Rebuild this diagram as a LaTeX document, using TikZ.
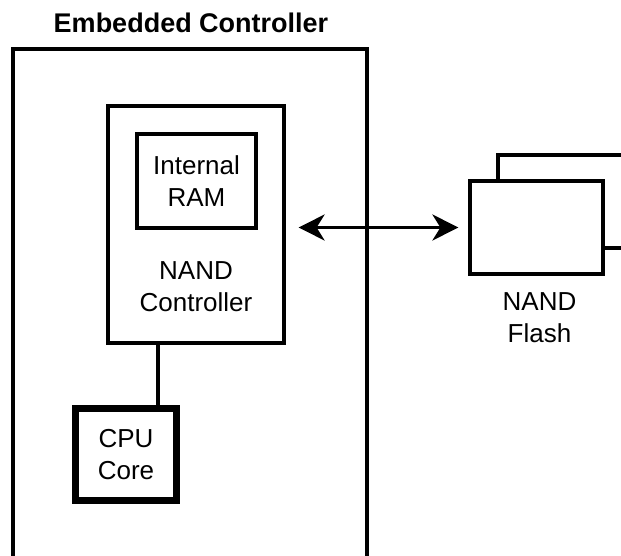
\documentclass[tikz,border=0pt]{standalone}
\usepackage{fontspec}
\setmainfont{Liberation Sans}
\usetikzlibrary{arrows.meta}

\begin{document}
\begin{tikzpicture}[x=0.5pt, y=-0.5pt,
        box/.style={draw=black, fill=white, line width=1.6pt, inner sep=0pt, align=center,
                    font=\fontsize{13}{16}\selectfont},
        cpubox/.style={box, line width=3.5pt},
        txt/.style={align=center, font=\fontsize{13}{16}\selectfont},
        arrow/.style={{Stealth[length=13pt,width=13pt,inset=4pt]}-{Stealth[length=13pt,width=13pt,inset=4pt]}, line width=1.6pt}
    ]
        \clip (0,0) rectangle (621,556);
        % embedded controller, open at the bottom
        \node[font=\bfseries\fontsize{13.5}{16}\selectfont] (title) at (191,23) {Embedded Controller};
        \draw[line width=1.7pt] (13,600) |- (367,49) -- (367,600);

        \node[box, minimum width=88pt, minimum height=118.5pt] (ctrl) at (196,224.5) {};
        \node[box, minimum width=59.5pt, minimum height=47pt] (ram) at (196.5,181) {Internal\\RAM};
        \node[txt] (ctrllabel) at (196,287) {NAND\\Controller};
        \node[cpubox, minimum width=50.5pt, minimum height=46pt] (cpu) at (126,454.5) {CPU\\Core};

        % flash chips
        \node[box, minimum width=66.5pt, minimum height=46.5pt] (flashback) at (564.5,201.5) {};
        \node[box, minimum width=66.5pt, minimum height=46.5pt] (flash) at (536.5,227.5) {};
        \node[txt] (flashlabel) at (539.5,317.5) {NAND\\Flash};

        \coordinate (bus) at (158,0);
        \draw[line width=1.6pt] (ctrl.south -| bus) -- (cpu.north -| bus);
        \draw[arrow, shorten <=6.5pt, shorten >=5pt] (ctrl.east |- flash.west) -- (flash.west);
    \end{tikzpicture}
\end{document}
